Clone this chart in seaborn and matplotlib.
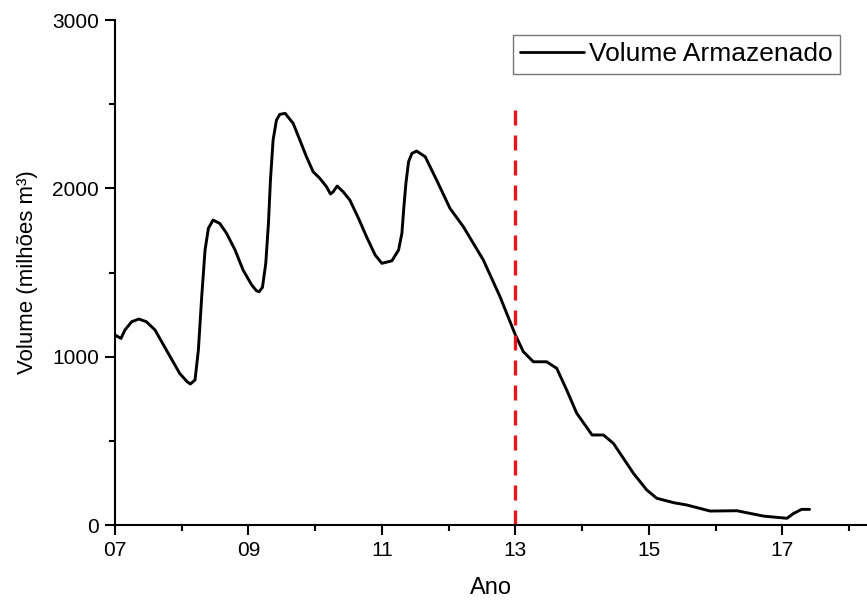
import matplotlib
matplotlib.use("Agg")
import matplotlib.pyplot as plt
from matplotlib.ticker import MultipleLocator, FixedLocator, FixedFormatter
import seaborn as sns
import pandas as pd

# Data (year within the 2000s, volume in million m3)
ano = [7.00, 7.09, 7.15, 7.25, 7.36, 7.47, 7.60, 7.77, 7.97, 8.08, 8.13, 8.20,
       8.25, 8.30, 8.35, 8.40, 8.47, 8.57, 8.67, 8.80, 8.92, 9.05, 9.12, 9.16,
       9.21, 9.26, 9.30, 9.33, 9.37, 9.42, 9.47, 9.55, 9.67, 9.77, 9.87, 9.97,
       10.07, 10.17, 10.23, 10.27, 10.33, 10.42, 10.52, 10.65, 10.77, 10.90,
       11.00, 11.15, 11.25, 11.30, 11.33, 11.36, 11.40, 11.45, 11.52, 11.65,
       11.82, 12.02, 12.22, 12.52, 12.77, 13.00, 13.12, 13.27, 13.47, 13.62,
       13.77, 13.92, 14.15, 14.32, 14.47, 14.62, 14.77, 14.97, 15.12, 15.37,
       15.57, 15.92, 16.32, 16.72, 17.07, 17.17, 17.29, 17.41]
volume = [1129, 1109, 1159, 1208, 1224, 1208, 1159, 1040, 901, 852, 838, 862,
          1040, 1357, 1634, 1763, 1812, 1792, 1735, 1634, 1515, 1426, 1392, 1386,
          1412, 1555, 1792, 2050, 2288, 2406, 2440, 2446, 2387, 2288, 2188, 2099,
          2060, 2010, 1967, 1980, 2014, 1980, 1931, 1822, 1713, 1604,
          1555, 1570, 1634, 1733, 1891, 2030, 2159, 2208, 2222, 2188,
          2050, 1882, 1773, 1575, 1357, 1130, 1030, 970, 970, 931,
          802, 664, 535, 535, 485, 396, 307, 208, 159, 133,
          119, 83, 85, 53, 40, 69, 93, 93]
marco_ano = 13
marco_topo = 2480

df = pd.DataFrame({"Ano": ano, "Volume": volume})

sns.set_style("ticks")
plt.rcParams["font.family"] = ["Liberation Sans", "DejaVu Sans"]
plt.rcParams["text.color"] = "black"
plt.rcParams["axes.labelcolor"] = "black"
plt.rcParams["lines.solid_joinstyle"] = "round"

fig = plt.figure(figsize=(8.67, 6.10), dpi=100)
ax = fig.add_axes([0.1326, 0.1393, 0.8674, 0.8277])

sns.lineplot(data=df, x="Ano", y="Volume", ax=ax, color="black", linewidth=2.1,
             label="Volume Armazenado")
ax.plot([marco_ano, marco_ano], [0, marco_topo], color="#e8141b",
        linewidth=2.4, linestyle=(0, (4.5, 3)))

ax.set_xlim(7, 18.27)
ax.set_ylim(0, 3000)

ax.xaxis.set_major_locator(FixedLocator([7, 9, 11, 13, 15, 17]))
ax.xaxis.set_major_formatter(FixedFormatter(["07", "09", "11", "13", "15", "17"]))
ax.xaxis.set_minor_locator(FixedLocator([8, 10, 12, 14, 16, 18]))
ax.yaxis.set_major_locator(MultipleLocator(1000))
ax.yaxis.set_minor_locator(MultipleLocator(500))

for s in ["top", "right"]:
    ax.spines[s].set_visible(False)
for s in ["left", "bottom"]:
    ax.spines[s].set_linewidth(1.5)
    ax.spines[s].set_color("black")

ax.tick_params(axis="both", which="major", direction="out", length=7.5, width=1.5,
               labelsize=15, colors="black")
ax.tick_params(axis="both", which="minor", direction="out", length=4.5, width=1.5,
               colors="black")
ax.tick_params(axis="y", which="major", pad=4)
ax.tick_params(axis="x", which="major", pad=4)

ax.set_xlabel("Ano", fontsize=17, labelpad=12)
ax.set_ylabel("Volume (milhões m³)", fontsize=16, labelpad=10)

leg = ax.legend(loc="upper right", bbox_to_anchor=(840 / 867, 1 - 35 / 610),
                bbox_transform=fig.transFigure, fontsize=19,
                frameon=True, fancybox=False, edgecolor="#555555",
                handlelength=2.4, handletextpad=0.2, borderpad=0.28,
                borderaxespad=0)
leg.get_frame().set_linewidth(1.0)
for line in leg.get_lines():
    line.set_linewidth(2.0)

fig.savefig("out.png", dpi=100)
